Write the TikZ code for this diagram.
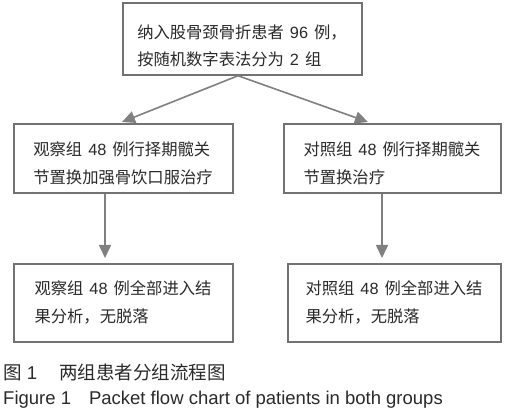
\documentclass[tikz,border=0pt]{standalone}
\usepackage{fontspec}
\setmainfont{Liberation Sans}
\newfontfamily\zhfont{Noto Sans CJK SC}
\newcommand\zh[1]{{\zhfont #1}}
\newcommand\gp{\hspace{6pt}}
\usetikzlibrary{arrows.meta}
\definecolor{boxgray}{HTML}{727272}
\definecolor{arrgray}{HTML}{808080}
\definecolor{txtc}{HTML}{2A2A2A}
\begin{document}
\begin{tikzpicture}[x=1pt,y=-1pt,
  box/.style={draw=boxgray,line width=1.5pt,inner sep=0pt},
  lbl/.style={align=left,text=txtc,font=\fontsize{16.3}{27.5}\selectfont,inner sep=0pt},
  arr/.style={draw=arrgray,line width=1.6pt,-{Triangle[length=13pt,width=12pt]}},
  captext/.style={anchor=west,text=txtc,inner sep=0pt,font=\fontsize{18.5}{20}\selectfont}
]
\useasboundingbox[fill=white] (0,0) rectangle (506,414);
% boxes
\node[box,minimum width=239pt,minimum height=72pt] (top) at (242.5,39) {};
\node[box,minimum width=219pt,minimum height=69pt] (ml) at (123.5,158.5) {};
\node[box,minimum width=217pt,minimum height=69pt] (mr) at (392.5,158.5) {};
\node[box,minimum width=219pt,minimum height=78pt] (bl) at (123.5,303) {};
\node[box,minimum width=213pt,minimum height=78pt] (br) at (394.5,303) {};
% texts
\node[lbl] (ttop) at (242,46) {\zh{纳入股骨颈骨折患者}\gp96\gp\zh{例，}\\\zh{按随机数字表法分为}\gp2\gp\zh{组}};
\node[lbl] (tml) at (123,163.5) {\zh{观察组}\gp48\gp\zh{例行择期髋关}\\\zh{节置换加强骨饮口服治疗}};
\node[lbl] (tmr) at (392,163.5) {\zh{对照组}\gp48\gp\zh{例行择期髋关}\\\zh{节置换治疗}};
\node[lbl] (tbl) at (123,302.5) {\zh{观察组}\gp48\gp\zh{例全部进入结}\\\zh{果分析，无脱落}};
\node[lbl] (tbr) at (394,302.5) {\zh{对照组}\gp48\gp\zh{例全部进入结}\\\zh{果分析，无脱落}};
% connectors
\coordinate (apex) at (238,75);
\coordinate (tl) at (122,122);
\coordinate (tr) at (368,122);
\coordinate (vl) at (105,258);
\coordinate (vr) at (382,258);
\draw[arr] (top.south -| apex) -- (tl);
\draw[arr] (top.south -| apex) -- (tr);
\draw[arr] (ml.south -| vl) -- (vl);
\draw[arr] (mr.south -| vr) -- (vr);
% caption
\node[captext] (cap1) at (3,372) {\zh{图} 1\hspace{22pt}\zh{两组患者分组流程图}};
\node[captext] (cap2) at (3,400) {Figure 1\hspace{18pt}Packet flow chart of patients in both groups};
\end{tikzpicture}
\end{document}
